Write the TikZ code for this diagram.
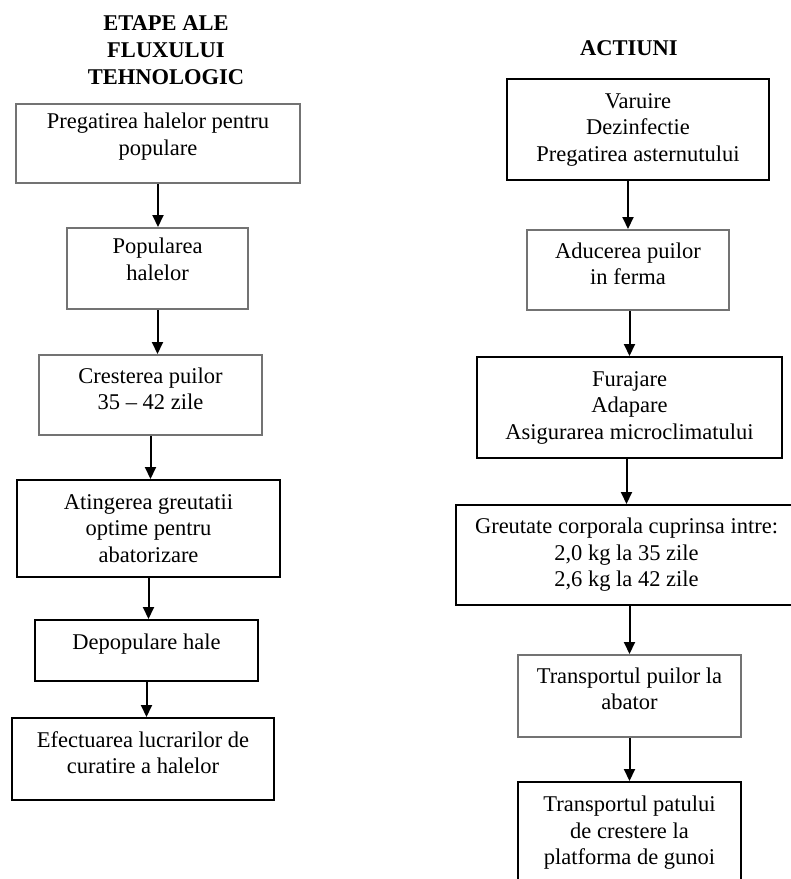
\documentclass[tikz,border=0pt]{standalone}
\usepackage{fontspec}
\setmainfont{Liberation Serif}
\usetikzlibrary{arrows.meta}

\begin{document}
\begin{tikzpicture}[x=1pt, y=-1pt,
  every node/.style={align=center, inner sep=0pt, font=\fontsize{22.5}{26.5}\selectfont},
  stage/.style={draw=black, line width=2pt, minimum width=#1},
  greystage/.style={stage=#1, draw=black!55},
  title/.style={font=\fontsize{22.5}{27}\selectfont\bfseries},
  flow/.style={line width=2pt, -{Triangle[length=12pt, width=11pt]}}]

\useasboundingbox (0,0) rectangle (791,879);
\clip (0,0) rectangle (791,879);

% left column: etape
\node[title] (tleft) at (166,50) {ETAPE ALE\\FLUXULUI\\TEHNOLOGIC};
\node[greystage=284pt, minimum height=79pt] (l1) at (158,143.5) {Pregatirea halelor pentru\\populare\\[-8pt]};
\node[greystage=181pt, minimum height=81pt] (l2) at (157.5,268.5) {Popularea\\halelor\\[-8pt]};
\node[greystage=223pt, minimum height=80pt] (l3) at (150.5,395) {Cresterea puilor\\35 -- 42 zile\\[-14pt]};
\node[stage=263pt, minimum height=97pt] (l4) at (148.5,528.5) {Atingerea greutatii\\optime pentru\\abatorizare};
\node[stage=223pt, minimum height=61pt] (l5) at (146.5,650.5) {Depopulare hale\\[-8pt]~};
\node[stage=262pt, minimum height=82pt] (l6) at (143,759) {Efectuarea lucrarilor de\\curatire a halelor\\[-14pt]};

% right column: actiuni
\node[title] (tright) at (629,48) {ACTIUNI};
\node[stage=262pt, minimum height=101pt] (r1) at (638,129.5) {Varuire\\Dezinfectie\\Pregatirea asternutului};
\node[greystage=202pt, minimum height=80pt] (r2) at (628,270) {Aducerea puilor\\in ferma\\[-14pt]};
\node[stage=305pt, minimum height=101pt] (r3) at (629.5,407.5) {Furajare\\Adapare\\Asigurarea microclimatului};
\node[stage=341pt, minimum height=100pt] (r4) at (626.5,555) {Greutate corporala cuprinsa intre:\\2,0 kg la 35 zile\\2,6 kg la 42 zile};
\node[greystage=223pt, minimum height=82pt] (r5) at (629.5,696) {Transportul puilor la\\abator\\[-12pt]};
\node[stage=223pt, minimum height=102pt] (r6) at (629.5,833) {Transportul patului\\de crestere la\\platforma de gunoi};

\foreach \a/\b in {l1/l2, l2/l3, l3/l4, l4/l5, l5/l6}
  \draw[flow] (\a.south) -- (\a.south |- \b.north);
\foreach \a/\b in {r1/r2, r2/r3, r3/r4, r4/r5, r5/r6}
  \draw[flow] (\b.north |- \a.south) -- (\b.north);

\end{tikzpicture}
\end{document}
